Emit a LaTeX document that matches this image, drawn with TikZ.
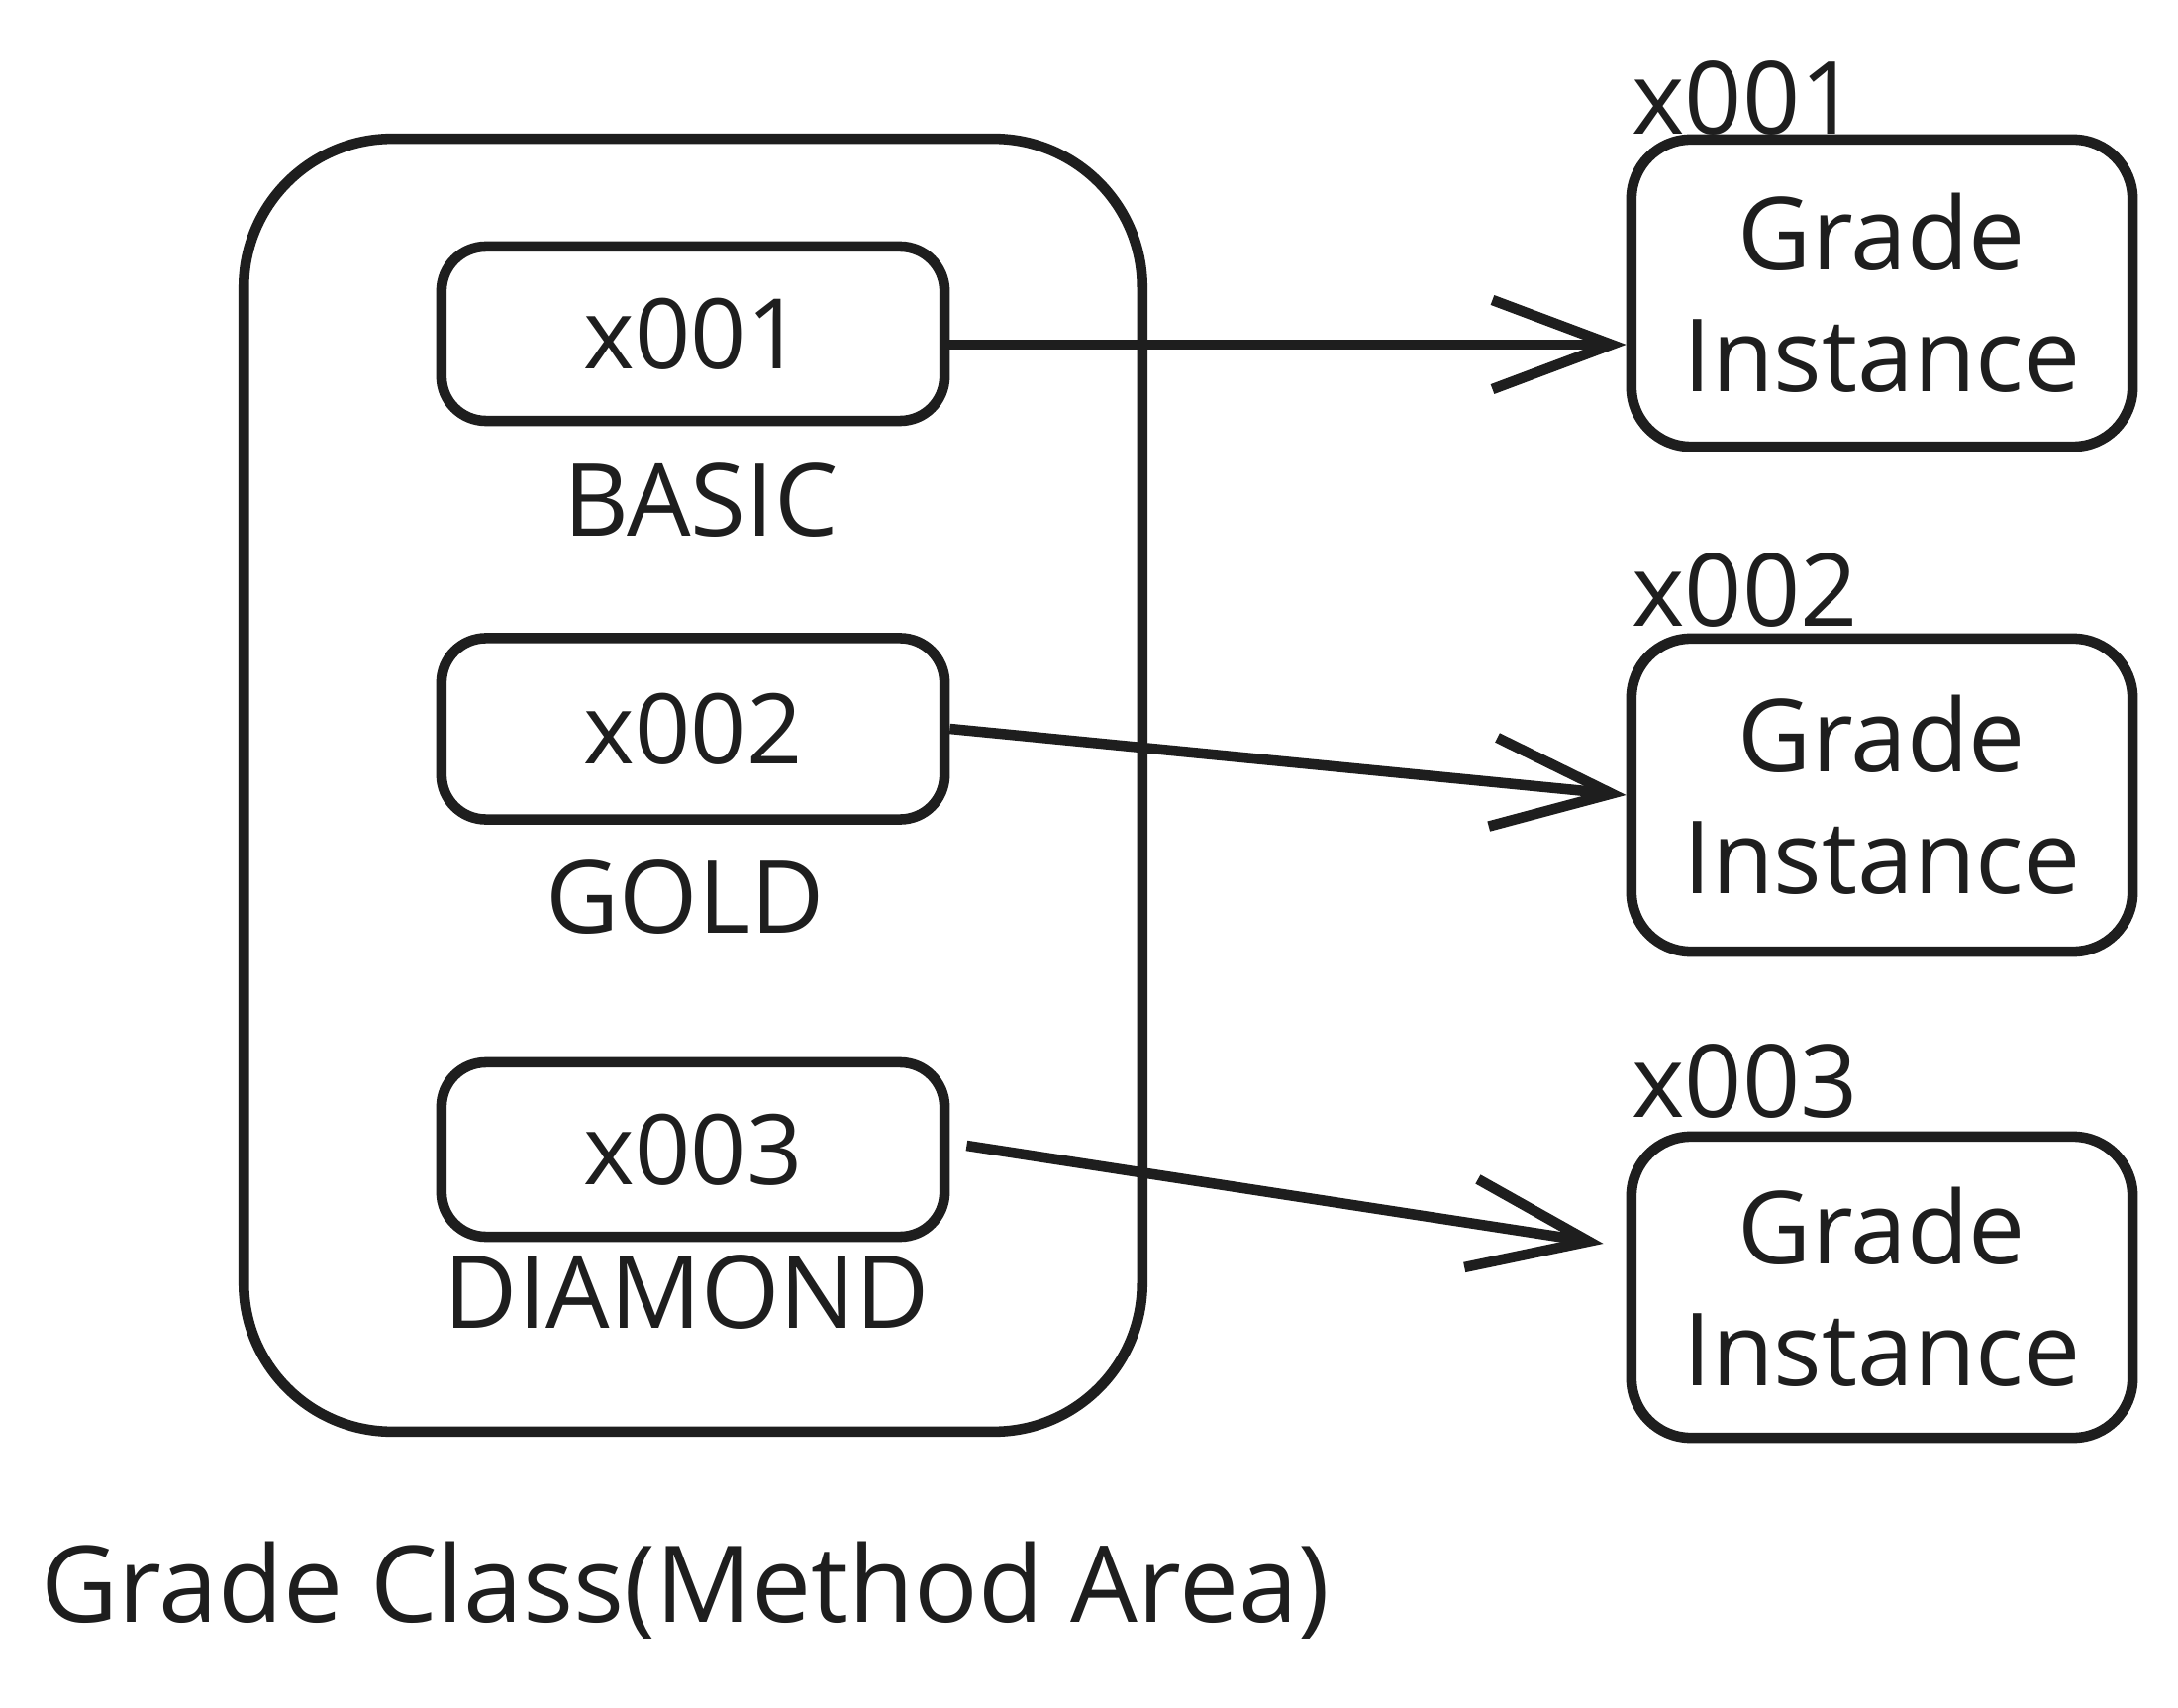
\documentclass[tikz,border=0pt]{standalone}
\usepackage{fontspec}
\setmainfont{Open Sans}
\usetikzlibrary{arrows.meta,calc}
\definecolor{ink}{HTML}{1E1E1E}
\begin{document}
\begin{tikzpicture}[x=0.01cm,y=-0.01cm,
  bigbox/.style={draw=ink, line width=3pt, rounded corners=1.5cm, minimum width=9.07cm, minimum height=13.05cm, inner sep=0pt},
  slot/.style={draw=ink, line width=3pt, rounded corners=0.45cm, minimum width=5.08cm, minimum height=1.76cm, text=ink, font=\fontsize{28}{34}\selectfont},
  inst/.style={draw=ink, line width=3pt, rounded corners=0.6cm, minimum width=5.06cm, minimum height=3.1cm, align=center, text=ink, font=\fontsize{29}{35}\selectfont},
  lbl/.style={text=ink, font=\fontsize{29}{35}\selectfont, inner sep=0pt},
  refarrow/.style={draw=ink, line width=3pt, -{Straight Barb[length=1.2cm,width=0.9cm,line width=3pt]}}
]
\useasboundingbox[fill=white] (0,0) rectangle (2200,1725);
% class box
\node[bigbox] (cls) at (700,793) {};
\node[slot] (b1) at (700,337) {x001};
\node[slot, minimum height=1.83cm] (b2) at (700,736) {x002};
\node[slot] (b3) at (700,1161) {x003};
\node[lbl] (n1) at (708,505) {BASIC};
\node[lbl] (n2) at (692,906) {GOLD};
\node[lbl] (n3) at (694,1305) {DIAMOND};
% instances
\node[inst] (r1) at (1901,296) {Grade\\Instance};
\node[inst, minimum height=3.16cm] (r2) at (1901,803) {Grade\\Instance};
\node[inst, minimum height=3.04cm] (r3) at (1901,1300) {Grade\\Instance};
\node[lbl, anchor=base west] (a1) at ($(r1.north west)+(5,0)$) {x001};
\node[lbl, anchor=base west] (a2) at ($(r2.north west)+(5,-7)$) {x002};
\node[lbl, anchor=base west] (a3) at ($(r3.north west)+(5,-14)$) {x003};
% title
\node[lbl, font=\fontsize{30.5}{36}\selectfont] (title) at (692,1606) {Grade Class(Method Area)};
% references
\draw[refarrow] ($(b1.east)+(0,11)$) -- ($(b1.east -| r1.west)+(0,11)$);
\draw[refarrow] (b2.east) -- (r2.west);
\draw[refarrow] ($(b3.east)+(17,-4)$) -- ($(r3.west)+(-23,-44)$);
\end{tikzpicture}
\end{document}
